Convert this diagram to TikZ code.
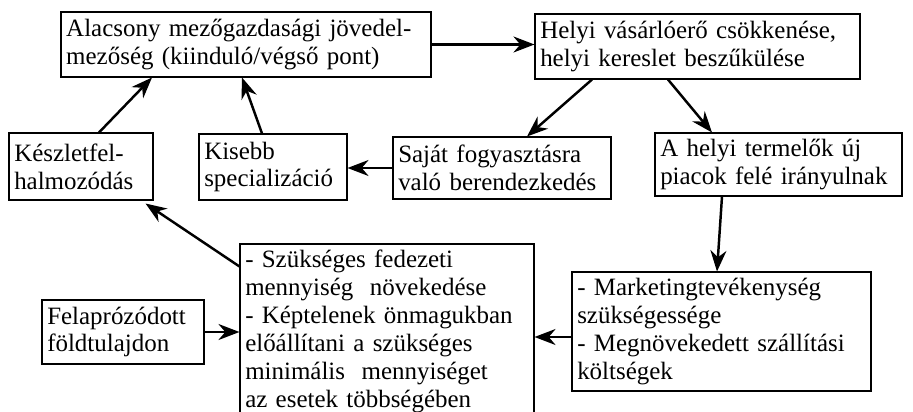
\documentclass[tikz,border=0pt]{standalone}
\usepackage{fontspec}
\setmainfont{Liberation Serif}
\usetikzlibrary{arrows.meta}
\usetikzlibrary{positioning}

\begin{document}
\begin{tikzpicture}[
    box/.style={draw, line width=.6pt, align=left, inner xsep=3pt, inner ysep=2pt,
        font=\fontsize{14.2}{15.9}\selectfont},
    arr/.style={-{Stealth[length=4.2mm, width=3.2mm]}, line width=1.4pt}
]

\clip (0, 0) rectangle (18.26, 8.22);

\node[box, text width=7.19cm, minimum height=1.3cm] at (4.92, 7.33) (alacsony) {Alacsony mezőgazdasági jövedel-\\mezőség (kiinduló/végső pont)};
\node[box, text width=6.29cm, minimum height=1.3cm] at (13.95, 7.29) (helyi) {Helyi vásárlóerő csökkenése,\\helyi kereslet beszűkülése};

\node[box, text width=2.67cm, minimum height=1.34cm] at (1.62, 4.89) (keszlet) {Készletfel-\\halmozódás};
\node[box, text width=2.75cm, minimum height=1.32cm] at (5.46, 4.88) (kisebb) {Kisebb\\specializáció};
\node[box, text width=4.15cm, minimum height=1.24cm] at (10.04, 4.86) (sajat) {Saját fogyasztásra\\való berendezkedés};
\node[box, text width=4.73cm, minimum height=1.26cm] at (15.57, 4.93) (termelok) {A helyi termelők új\\piacok felé irányulnak};

\node[box, text width=3.03cm, minimum height=1.28cm] at (2.46, 1.58) (felap) {Felaprózódott\\földtulajdon};
\node[box, text width=5.67cm, minimum height=3.5cm] at (7.74, 1.59) (fedezet) {- Szükséges fedezeti\\mennyiség\ \ növekedése\\- Képtelenek önmagukban\\előállítani a szükséges\\minimális\ \ mennyiséget\\az esetek többségében};
\node[box, text width=5.77cm, minimum height=2.38cm] at (14.43, 1.59) (marketing) {- Marketingtevékenység\\szükségessége\\- Megnövekedett szállítási\\költségek};

% upper row
\draw[arr] (alacsony.east) -- (alacsony.east -| helyi.west);
\draw[arr] ([xshift=-2.11cm]helyi.south) -- ([xshift=.5cm]sajat.north);
\draw[arr] ([xshift=-.59cm]helyi.south) -- ([xshift=-1.33cm]termelok.north);
\draw[arr] ([xshift=-1.13cm]termelok.south) -- ([xshift=-.09cm]marketing.north);

% back to the start
\draw[arr] ([yshift=-.11cm]marketing.west) -- ([yshift=-.11cm]marketing.west -| fedezet.east);
\draw[arr] (felap.east) -- (felap.east -| fedezet.west);
\draw[arr] ([yshift=-.46cm]fedezet.north west) -- ([xshift=-.16cm, yshift=-.06cm]keszlet.south east);
\draw[arr] (sajat.west) -- (sajat.west -| kisebb.east);
\draw[arr] ([xshift=-.22cm]kisebb.north) -- ([xshift=-.08cm]alacsony.south);
\draw[arr] ([xshift=.36cm]keszlet.north) -- ([xshift=-1.88cm]alacsony.south);

\end{tikzpicture}
\end{document}
